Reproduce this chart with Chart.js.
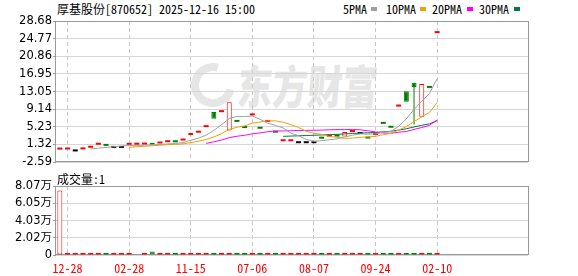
<!DOCTYPE html>
<html>
<head>
<meta charset="utf-8">
<script src="https://cdn.jsdelivr.net/npm/chart.js@4.4.1/dist/chart.umd.min.js"></script>
<style>
html,body{margin:0;padding:0;background:#fff;}
body{position:relative;width:578px;height:276px;overflow:hidden;}
.t{position:absolute;font-family:"Noto Sans Mono CJK SC","Noto Sans CJK SC",monospace;font-size:12px;line-height:14px;color:#000;white-space:pre;}
.sq{position:absolute;width:6px;height:4px;}
#wm{position:absolute;left:240px;top:58px;font-family:"Noto Sans CJK SC";font-weight:900;font-size:46px;line-height:52px;color:#e6e6e6;transform:scaleX(0.76) skewX(-6deg);transform-origin:0 0;white-space:pre;}
#logo{position:absolute;left:191px;top:63px;width:28px;height:28px;border:8px solid #e6e6e6;border-right-color:transparent;border-radius:50%;transform:rotate(-30deg);}
canvas{position:absolute;left:0;}
</style>
</head>
<body>
<div id="logo"></div>
<div id="wm">东方财富</div>
<div class="t" style="left:57px;top:2px">厚基股份[870652] 2025-12-16 15:00</div>
<div class="t" style="left:343px;top:2px">5PMA</div><div class="sq" style="left:371px;top:7px;background:#a0a0a0"></div>
<div class="t" style="left:386px;top:2px">10PMA</div><div class="sq" style="left:420px;top:7px;background:#f0a000"></div>
<div class="t" style="left:432px;top:2px">20PMA</div><div class="sq" style="left:467px;top:7px;background:#ff00ff"></div>
<div class="t" style="left:479px;top:2px">30PMA</div><div class="sq" style="left:514px;top:7px;background:#007a3d"></div>
<canvas id="main" width="578" height="170" style="top:0"></canvas>
<canvas id="vol" width="578" height="106" style="top:170px"></canvas>
<div class="t" style="left:57px;top:172px">成交量:1</div>
<script>
// ---- data ----
const opens  = [0.19,0.21,0.22,0.23,0.59,1.25,1.01,1.00,1.00,1.25,1.27,1.29,1.35,1.53,1.82,1.81,2.19,3.43,3.92,5.16,8.49,8.48,4.43,6.33,4.96,7.76,4.81,6.31,3.94,2.03,2.03,2.04,2.04,2.04,2.61,3.05,3.07,3.06,4.07,4.08,2.64,3.42,5.89,5.03,9.72,13.10,15.00,7.47,13.86,25.99];
const highs  = [0.20,0.22,0.22,0.24,0.60,1.26,1.01,1.00,1.00,1.26,1.28,1.30,1.35,1.54,1.83,1.81,2.20,3.87,3.93,5.17,8.49,8.49,10.66,6.33,4.96,7.77,4.81,6.32,3.94,2.04,2.04,2.04,2.04,2.04,2.61,3.06,3.07,4.08,4.08,4.08,2.64,3.43,5.89,5.03,9.73,13.10,15.00,14.72,13.86,26.00];
const lows   = [0.19,0.21,0.22,0.23,0.59,1.25,1.00,1.00,1.00,1.25,1.27,1.29,1.25,1.53,1.82,1.80,2.19,3.43,3.92,5.16,7.04,8.48,4.43,6.32,4.95,7.76,4.80,6.31,3.93,2.03,2.03,2.04,2.04,2.04,2.60,3.05,3.06,3.06,4.07,4.08,2.63,3.42,5.88,5.02,9.72,10.80,5.73,7.47,13.85,25.99];
const closes = [0.20,0.22,0.22,0.24,0.60,1.26,1.00,1.00,1.00,1.26,1.28,1.30,1.25,1.54,1.83,1.80,2.20,3.87,3.93,5.17,7.04,8.49,10.66,6.32,4.95,7.77,4.80,6.32,3.93,2.04,2.04,2.04,2.04,2.04,2.60,3.06,3.06,4.08,4.08,4.08,2.63,3.43,5.88,5.02,9.73,10.80,14.07,14.72,13.85,26.00];
const volumes = [75300,300,300,300,300,300,300,300,300,300,null,300,4200,300,300,300,300,300,300,300,300,300,300,300,300,300,300,300,300,300,300,300,300,300,300,300,300,300,300,300,300,300,300,300,300,300,300,300,300,300];
const ma5  = [null,null,null,null,0.30,0.51,0.66,0.82,0.97,1.10,1.11,1.17,1.22,1.33,1.44,1.54,1.72,2.25,2.73,3.39,4.44,5.70,7.06,7.54,7.49,7.64,6.90,6.03,5.55,4.97,3.83,3.27,2.42,2.04,2.15,2.36,2.56,2.97,3.38,3.67,3.59,3.66,4.02,4.21,5.34,6.97,9.10,10.87,12.63,15.89];
const ma10 = [null,null,null,null,null,null,null,null,null,0.70,0.81,0.92,1.02,1.15,1.27,1.33,1.45,1.73,2.03,2.42,2.99,3.71,4.65,5.13,5.44,6.04,6.30,6.55,6.55,6.23,5.73,5.09,4.23,3.80,3.56,3.09,2.92,2.69,2.71,2.91,2.97,3.11,3.49,3.79,4.51,5.28,6.38,7.44,8.42,10.61];
const ma20 = [null,null,null,null,null,null,null,null,null,null,null,null,null,null,null,null,null,null,null,1.56,1.90,2.31,2.84,3.14,3.36,3.68,3.87,4.14,4.29,4.32,4.36,4.40,4.44,4.46,4.50,4.57,4.61,4.62,4.63,4.57,4.35,4.10,3.86,3.79,4.03,4.19,4.65,5.07,5.56,6.76];
const ma30 = [null,null,null,null,null,null,null,null,null,null,null,null,null,null,null,null,null,null,null,null,null,null,null,null,null,null,null,null,null,3.12,3.18,3.24,3.30,3.36,3.43,3.49,3.55,3.66,3.76,3.85,3.90,3.97,4.12,4.24,4.50,4.80,5.20,5.56,5.89,6.59];
const yTickLabels = ['-2.59','1.32','5.23','9.14','13.05','16.95','20.86','24.77','28.68'];
const volTickLabels = ['0','2.02万','4.03万','6.05万','8.07万'];
const volTickValues = [0,20200,40300,60500,80700];
const xTickIndex = [1,9,17,25,33,41,49];
const xTickLabels = ['12-28','02-28','11-15','07-06','08-07','09-24','02-10'];

// ---- styling ----
const RED='#ff0000', GREEN='#008000', BLACK='#000000';
const dir = i => closes[i] > opens[i] ? 1 : (closes[i] < opens[i] ? -1 : 0);
const flat = i => Math.abs(closes[i] - opens[i]) < 0.02;
const colorOf = i => dir(i) > 0 ? RED : (dir(i) < 0 ? GREEN : BLACK);
const idxOf = ctx => (ctx.raw ? ctx.raw.x : 0);

const bodies = closes.map((c,i)=>({x:i, y:[Math.min(opens[i],c), Math.max(opens[i],c)]}));
const wicks = closes.map((c,i)=>i).filter(i => highs[i] > Math.max(opens[i],closes[i]) || lows[i] < Math.min(opens[i],closes[i])).map(i=>({x:i, y:[lows[i], highs[i]]}));
const line = arr => arr.map((v,i)=>({x:i, y:v}));

const framePlugin = {
  id:'frame',
  beforeDatasetsDraw(chart){
    const {ctx, chartArea:a} = chart;
    ctx.save();
    ctx.strokeStyle = '#9a9a9a'; ctx.lineWidth = 1;
    ctx.strokeRect(Math.round(a.left)-0.5, Math.round(a.top)+0.5, Math.round(a.right-a.left)+1, Math.round(a.bottom-a.top)-1);
    ctx.restore();
  }
};

const xScaleBase = {
  type:'linear', min:-0.5, max:60.8, offset:false,
  afterBuildTicks: s => { s.ticks = xTickIndex.map(v=>({value:v})); },
  grid:{offset:false, color:'#c8c8c8', drawTicks:false},
  border:{display:false, dash:[4,3]}
};

new Chart(document.getElementById('main'), {
  type:'bar',
  data:{datasets:[
    {type:'line', data: line(ma5), borderColor:'#a0a0a0', borderWidth:1, pointRadius:0, order:1},
    {type:'line', data: line(ma10), borderColor:'#f0a000', borderWidth:1, pointRadius:0, order:1},
    {type:'line', data: line(ma20), borderColor:'#ff00ff', borderWidth:1, pointRadius:0, order:1},
    {type:'line', data: line(ma30), borderColor:'#007a3d', borderWidth:1, pointRadius:0, order:1},
    {type:'bar', data: bodies, grouped:false, barThickness:5, minBarLength:2, inflateAmount:0, borderSkipped:false,
      borderWidth: ctx => flat(idxOf(ctx)) ? 0 : 1,
      backgroundColor: ctx => (dir(idxOf(ctx)) > 0 && !flat(idxOf(ctx))) ? '#ffffff' : colorOf(idxOf(ctx)),
      borderColor: ctx => colorOf(idxOf(ctx)), order:2},
    {type:'bar', data: wicks, grouped:false, barThickness:1, borderWidth:0, inflateAmount:0,
      backgroundColor: ctx => colorOf(idxOf(ctx)), order:3}
  ]},
  options:{
    responsive:false, animation:false,
    layout:{padding:{top:21, right:50, bottom:5, left:0}},
    plugins:{legend:{display:false}, tooltip:{enabled:false}},
    scales:{
      x: Object.assign({}, xScaleBase, {afterFit: s => { s.height = 0; }, ticks:{display:false}}),
      y: {
        min:-2.59, max:28.68,
        afterBuildTicks: s => { s.ticks = yTickLabels.map(t=>({value:parseFloat(t)})); },
        afterFit: s => { s.width = 56; },
        ticks:{callback:(v,i)=>yTickLabels[i], color:'#000', padding:1, font:{family:'DejaVu Sans', size:11.5}},
        grid:{color:'#d6d6d6', tickColor:'#999', tickLength:3},
        border:{display:false}
      }
    }
  },
  plugins:[framePlugin]
});

new Chart(document.getElementById('vol'), {
  type:'bar',
  data:{datasets:[
    {data: volumes.map((v,i)=>({x:i, y:v})), grouped:false, barThickness:5, minBarLength:2, inflateAmount:0, borderSkipped:false,
      borderWidth: ctx => (ctx.raw && ctx.raw.y > 1000) ? 1 : 0,
      backgroundColor: ctx => (ctx.raw && ctx.raw.y > 1000 && dir(idxOf(ctx)) >= 0) ? '#ffffff' : (dir(idxOf(ctx)) >= 0 ? RED : GREEN),
      borderColor: ctx => dir(idxOf(ctx)) >= 0 ? RED : GREEN}
  ]},
  options:{
    responsive:false, animation:false,
    layout:{padding:{top:16, right:50, bottom:0, left:0}},
    plugins:{legend:{display:false}, tooltip:{enabled:false}},
    scales:{
      x: Object.assign({}, xScaleBase, {
        afterFit: s => { s.height = 21; },
        ticks:{display:true, autoSkip:false, maxRotation:0, padding:6, color:RED,
          callback:(v,i)=>xTickLabels[i], font:{family:'"Noto Sans Mono CJK SC", "Noto Sans CJK SC", monospace', size:12}}
      }),
      y: {
        min:0, max:80700,
        afterBuildTicks: s => { s.ticks = volTickValues.map(v=>({value:v})); },
        afterFit: s => { s.width = 56; },
        ticks:{callback:(v,i)=>volTickLabels[i], color:'#000', padding:1, font:{family:'DejaVu Sans, "Noto Sans CJK SC"', size:11.5}},
        grid:{color:'#d6d6d6', tickColor:'#999', tickLength:3},
        border:{display:false}
      }
    }
  },
  plugins:[framePlugin]
});
</script>
</body>
</html>
